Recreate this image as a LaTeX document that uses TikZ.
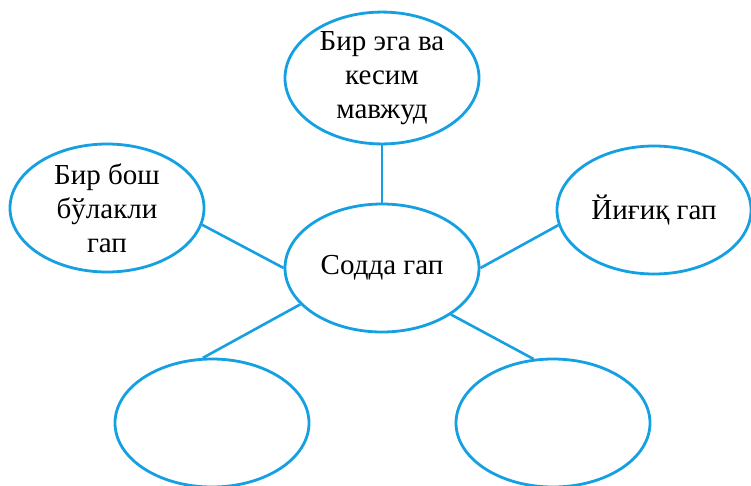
\documentclass[tikz,border=0pt]{standalone}
\usepackage{fontspec}
\setmainfont{Liberation Serif}
\usetikzlibrary{shapes.geometric}
\definecolor{bubbleblue}{RGB}{20,160,225}
\tikzset{
  bubble/.style={ellipse, draw=bubbleblue, line width=2.8pt, minimum width=194pt,
    minimum height=128pt, inner sep=0pt, align=center,
    font=\fontsize{29}{34}\selectfont},
  link/.style={draw=bubbleblue, line width=2.6pt}
}

\begin{document}
\begin{tikzpicture}[x=1pt,y=-1pt]
    \useasboundingbox (0,0) rectangle (751,485);

    % bubbles
    \node [bubble] (main)  at (382,268) {Содда гап};
    \node [bubble] (top)   at (382,78)  {Бир эга ва\\кесим\\мавжуд};
    \node [bubble] (left)  at (107,208) {Бир бош\\бўлакли\\гап};
    \node [bubble] (right) at (654,210) {Йиғиқ гап};
    \node [bubble] (botl)  at (212,423) {};
    \node [bubble] (botr)  at (553,423) {};

    % links
    \draw [link] (top.south) -- (main.north);
    \draw [link] (left.-10) -- (main.west);
    \draw [link] (main.east) -- (right.189);
    \draw [link] (main.204) -- (botl.98);
    \draw [link] (main.-34) -- (botr.107);
\end{tikzpicture}
\end{document}
